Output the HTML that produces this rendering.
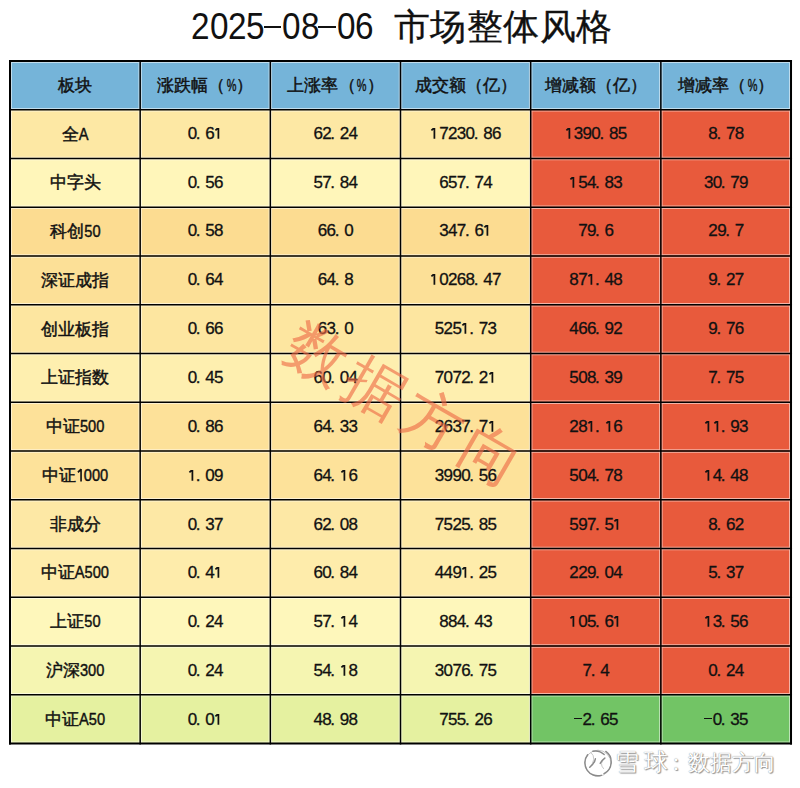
<!DOCTYPE html>
<html><head><meta charset="utf-8">
<style>
html,body{margin:0;padding:0;background:#fff;width:800px;height:788px;overflow:hidden;position:relative;font-family:"Liberation Sans",sans-serif;color:#111;}
.title{position:absolute;left:0;top:0;width:800px;height:56px;}
.t1{position:absolute;left:190.4px;top:7px;font-size:37px;line-height:40px;white-space:nowrap;}
.t1 b{display:inline-block;width:18.2px;text-align:center;font-weight:normal;}
.t1 b span{display:inline-block;transform:scaleX(0.9);}
.t1 b.ds{position:relative;height:40px;vertical-align:top;}
.t1 b.ds:after{content:'';position:absolute;left:0.4px;right:0.4px;top:18.9px;height:2.3px;background:#111;}
.t2{position:absolute;left:394px;top:4.5px;font-size:36.4px;letter-spacing:0.4px;line-height:44px;-webkit-text-stroke:0.3px #111;}
.c{position:absolute;display:flex;align-items:center;justify-content:center;box-sizing:border-box;}
.c span{display:block;white-space:nowrap;}
.h span{font-size:17px;-webkit-text-stroke:0.45px #111;}
.n span{font-size:17px;-webkit-text-stroke:0.45px #111;}
.d span{font-size:17px;line-height:20px;-webkit-text-stroke:0.3px #111;display:flex;align-items:center;position:relative;}
.d b{display:inline-block;width:8.8px;text-align:center;font-weight:normal;height:20px;position:relative;}
.d b.p{text-align:left;text-indent:-0.7px;}
.d b.o svg{position:absolute;left:0;top:4px;}
.d b.m:after{content:'';position:absolute;left:0.3px;right:0.6px;top:7.5px;height:1.7px;background:#111;}
i{font-style:normal;}
.la{display:inline-block;transform:scaleX(0.86);}
.lp{position:relative;left:0.5px;}
.o1{display:inline-block;width:9.45px;height:20px;vertical-align:top;}
.o1 svg{display:block;}
.pc{display:inline-block;width:11.5px;text-align:center;position:relative;left:-1px;}
.pc i{display:inline-block;transform:scaleX(0.64);}
.dt{display:inline-block;width:9px;text-align:left;}
.mi{display:inline-block;}
svg{position:absolute;left:0;top:0;}
.wm{position:absolute;left:269.5px;top:365px;width:268px;height:80px;line-height:80px;font-size:60px;font-weight:300;color:rgba(238,105,70,0.62);transform:rotate(30deg);transform-origin:50% 50%;white-space:nowrap;}
.wm i{display:inline-block;width:67px;text-align:center;}
.xq{position:absolute;left:578px;top:744px;width:40px;height:38px;}
.xqt{position:absolute;top:748px;font-size:22px;line-height:30px;color:#fff;text-shadow:0 0 1px #777,1px 1px 1px #999;white-space:nowrap;}
</style></head><body>
<div class="t1"><b><span>2</span></b><b><span>0</span></b><b><span>2</span></b><b><span>5</span></b><b class="ds"></b><b><span>0</span></b><b><span>8</span></b><b class="ds"></b><b><span>0</span></b><b><span>6</span></b></div>
<div class="t2">市场整体风格</div>
<div class="c h" style="left:10.00px;top:61.00px;width:130.17px;height:48.75px;background:#75B4D9"><span>板块</span></div><div class="c h" style="left:140.17px;top:61.00px;width:130.17px;height:48.75px;background:#75B4D9"><span>涨跌幅<i class="lp">（</i><i class="pc"><i>%</i></i>）</span></div><div class="c h" style="left:270.34px;top:61.00px;width:130.17px;height:48.75px;background:#75B4D9"><span>上涨率<i class="lp">（</i><i class="pc"><i>%</i></i>）</span></div><div class="c h" style="left:400.51px;top:61.00px;width:130.17px;height:48.75px;background:#75B4D9"><span>成交额<i class="lp">（</i>亿）</span></div><div class="c h" style="left:530.68px;top:61.00px;width:130.17px;height:48.75px;background:#75B4D9"><span>增减额<i class="lp">（</i>亿）</span></div><div class="c h" style="left:660.85px;top:61.00px;width:130.17px;height:48.75px;background:#75B4D9"><span>增减率<i class="lp">（</i><i class="pc"><i>%</i></i>）</span></div><div class="c n" style="left:10.00px;top:109.75px;width:130.17px;height:48.75px;background:#FDE8A4"><span>全<i class="la" style="margin:0 -0.79px">A</i></span></div><div class="c d" style="left:140.17px;top:109.75px;width:130.17px;height:48.75px;background:#FDE8A4"><span><i style="display:flex;position:relative;top:-0.50px"><b>0</b><b class="p">.</b><b>6</b><b class="o"><svg width="8.8" height="12" viewBox="0 0 8.8 12"><path d="M4.4 -0.7 V10.8 M4.5 -0.4 L1.4 2.4" stroke="#111" stroke-width="1.75" fill="none"/></svg></b></i></span></div><div class="c d" style="left:270.34px;top:109.75px;width:130.17px;height:48.75px;background:#FDE8A4"><span><i style="display:flex;position:relative;top:-0.50px"><b>6</b><b>2</b><b class="p">.</b><b>2</b><b>4</b></i></span></div><div class="c d" style="left:400.51px;top:109.75px;width:130.17px;height:48.75px;background:#FDE8A4"><span><i style="display:flex;position:relative;top:-0.50px"><b class="o"><svg width="8.8" height="12" viewBox="0 0 8.8 12"><path d="M4.4 -0.7 V10.8 M4.5 -0.4 L1.4 2.4" stroke="#111" stroke-width="1.75" fill="none"/></svg></b><b>7</b><b>2</b><b>3</b><b>0</b><b class="p">.</b><b>8</b><b>6</b></i></span></div><div class="c d" style="left:530.68px;top:109.75px;width:130.17px;height:48.75px;background:#E85A3C"><span><i style="display:flex;position:relative;top:-0.50px"><b class="o"><svg width="8.8" height="12" viewBox="0 0 8.8 12"><path d="M4.4 -0.7 V10.8 M4.5 -0.4 L1.4 2.4" stroke="#111" stroke-width="1.75" fill="none"/></svg></b><b>3</b><b>9</b><b>0</b><b class="p">.</b><b>8</b><b>5</b></i></span></div><div class="c d" style="left:660.85px;top:109.75px;width:130.17px;height:48.75px;background:#E85A3C"><span><i style="display:flex;position:relative;top:-0.50px"><b>8</b><b class="p">.</b><b>7</b><b>8</b></i></span></div><div class="c n" style="left:10.00px;top:158.50px;width:130.17px;height:48.75px;background:#FFF6BA"><span>中字头</span></div><div class="c d" style="left:140.17px;top:158.50px;width:130.17px;height:48.75px;background:#FFF6BA"><span><i style="display:flex;position:relative;top:-0.38px"><b>0</b><b class="p">.</b><b>5</b><b>6</b></i></span></div><div class="c d" style="left:270.34px;top:158.50px;width:130.17px;height:48.75px;background:#FFF6BA"><span><i style="display:flex;position:relative;top:-0.38px"><b>5</b><b>7</b><b class="p">.</b><b>8</b><b>4</b></i></span></div><div class="c d" style="left:400.51px;top:158.50px;width:130.17px;height:48.75px;background:#FFF6BA"><span><i style="display:flex;position:relative;top:-0.38px"><b>6</b><b>5</b><b>7</b><b class="p">.</b><b>7</b><b>4</b></i></span></div><div class="c d" style="left:530.68px;top:158.50px;width:130.17px;height:48.75px;background:#E85A3C"><span><i style="display:flex;position:relative;top:-0.38px"><b class="o"><svg width="8.8" height="12" viewBox="0 0 8.8 12"><path d="M4.4 -0.7 V10.8 M4.5 -0.4 L1.4 2.4" stroke="#111" stroke-width="1.75" fill="none"/></svg></b><b>5</b><b>4</b><b class="p">.</b><b>8</b><b>3</b></i></span></div><div class="c d" style="left:660.85px;top:158.50px;width:130.17px;height:48.75px;background:#E85A3C"><span><i style="display:flex;position:relative;top:-0.38px"><b>3</b><b>0</b><b class="p">.</b><b>7</b><b>9</b></i></span></div><div class="c n" style="left:10.00px;top:207.25px;width:130.17px;height:48.75px;background:#FCDC91"><span>科创<i class="la" style="margin:0 -1.32px">50</i></span></div><div class="c d" style="left:140.17px;top:207.25px;width:130.17px;height:48.75px;background:#FCDC91"><span><i style="display:flex;position:relative;top:-0.27px"><b>0</b><b class="p">.</b><b>5</b><b>8</b></i></span></div><div class="c d" style="left:270.34px;top:207.25px;width:130.17px;height:48.75px;background:#FCDC91"><span><i style="display:flex;position:relative;top:-0.27px"><b>6</b><b>6</b><b class="p">.</b><b>0</b></i></span></div><div class="c d" style="left:400.51px;top:207.25px;width:130.17px;height:48.75px;background:#FCDC91"><span><i style="display:flex;position:relative;top:-0.27px"><b>3</b><b>4</b><b>7</b><b class="p">.</b><b>6</b><b class="o"><svg width="8.8" height="12" viewBox="0 0 8.8 12"><path d="M4.4 -0.7 V10.8 M4.5 -0.4 L1.4 2.4" stroke="#111" stroke-width="1.75" fill="none"/></svg></b></i></span></div><div class="c d" style="left:530.68px;top:207.25px;width:130.17px;height:48.75px;background:#E85A3C"><span><i style="display:flex;position:relative;top:-0.27px"><b>7</b><b>9</b><b class="p">.</b><b>6</b></i></span></div><div class="c d" style="left:660.85px;top:207.25px;width:130.17px;height:48.75px;background:#E85A3C"><span><i style="display:flex;position:relative;top:-0.27px"><b>2</b><b>9</b><b class="p">.</b><b>7</b></i></span></div><div class="c n" style="left:10.00px;top:256.00px;width:130.17px;height:48.75px;background:#FCE097"><span>深证成指</span></div><div class="c d" style="left:140.17px;top:256.00px;width:130.17px;height:48.75px;background:#FCE097"><span><i style="display:flex;position:relative;top:-0.15px"><b>0</b><b class="p">.</b><b>6</b><b>4</b></i></span></div><div class="c d" style="left:270.34px;top:256.00px;width:130.17px;height:48.75px;background:#FCE097"><span><i style="display:flex;position:relative;top:-0.15px"><b>6</b><b>4</b><b class="p">.</b><b>8</b></i></span></div><div class="c d" style="left:400.51px;top:256.00px;width:130.17px;height:48.75px;background:#FCE097"><span><i style="display:flex;position:relative;top:-0.15px"><b class="o"><svg width="8.8" height="12" viewBox="0 0 8.8 12"><path d="M4.4 -0.7 V10.8 M4.5 -0.4 L1.4 2.4" stroke="#111" stroke-width="1.75" fill="none"/></svg></b><b>0</b><b>2</b><b>6</b><b>8</b><b class="p">.</b><b>4</b><b>7</b></i></span></div><div class="c d" style="left:530.68px;top:256.00px;width:130.17px;height:48.75px;background:#E85A3C"><span><i style="display:flex;position:relative;top:-0.15px"><b>8</b><b>7</b><b class="o"><svg width="8.8" height="12" viewBox="0 0 8.8 12"><path d="M4.4 -0.7 V10.8 M4.5 -0.4 L1.4 2.4" stroke="#111" stroke-width="1.75" fill="none"/></svg></b><b class="p">.</b><b>4</b><b>8</b></i></span></div><div class="c d" style="left:660.85px;top:256.00px;width:130.17px;height:48.75px;background:#E85A3C"><span><i style="display:flex;position:relative;top:-0.15px"><b>9</b><b class="p">.</b><b>2</b><b>7</b></i></span></div><div class="c n" style="left:10.00px;top:304.75px;width:130.17px;height:48.75px;background:#FDE6A0"><span>创业板指</span></div><div class="c d" style="left:140.17px;top:304.75px;width:130.17px;height:48.75px;background:#FDE6A0"><span><i style="display:flex;position:relative;top:-0.03px"><b>0</b><b class="p">.</b><b>6</b><b>6</b></i></span></div><div class="c d" style="left:270.34px;top:304.75px;width:130.17px;height:48.75px;background:#FDE6A0"><span><i style="display:flex;position:relative;top:-0.03px"><b>6</b><b>3</b><b class="p">.</b><b>0</b></i></span></div><div class="c d" style="left:400.51px;top:304.75px;width:130.17px;height:48.75px;background:#FDE6A0"><span><i style="display:flex;position:relative;top:-0.03px"><b>5</b><b>2</b><b>5</b><b class="o"><svg width="8.8" height="12" viewBox="0 0 8.8 12"><path d="M4.4 -0.7 V10.8 M4.5 -0.4 L1.4 2.4" stroke="#111" stroke-width="1.75" fill="none"/></svg></b><b class="p">.</b><b>7</b><b>3</b></i></span></div><div class="c d" style="left:530.68px;top:304.75px;width:130.17px;height:48.75px;background:#E85A3C"><span><i style="display:flex;position:relative;top:-0.03px"><b>4</b><b>6</b><b>6</b><b class="p">.</b><b>9</b><b>2</b></i></span></div><div class="c d" style="left:660.85px;top:304.75px;width:130.17px;height:48.75px;background:#E85A3C"><span><i style="display:flex;position:relative;top:-0.03px"><b>9</b><b class="p">.</b><b>7</b><b>6</b></i></span></div><div class="c n" style="left:10.00px;top:353.50px;width:130.17px;height:48.75px;background:#FEEFAF"><span>上证指数</span></div><div class="c d" style="left:140.17px;top:353.50px;width:130.17px;height:48.75px;background:#FEEFAF"><span><i style="display:flex;position:relative;top:0.08px"><b>0</b><b class="p">.</b><b>4</b><b>5</b></i></span></div><div class="c d" style="left:270.34px;top:353.50px;width:130.17px;height:48.75px;background:#FEEFAF"><span><i style="display:flex;position:relative;top:0.08px"><b>6</b><b>0</b><b class="p">.</b><b>0</b><b>4</b></i></span></div><div class="c d" style="left:400.51px;top:353.50px;width:130.17px;height:48.75px;background:#FEEFAF"><span><i style="display:flex;position:relative;top:0.08px"><b>7</b><b>0</b><b>7</b><b>2</b><b class="p">.</b><b>2</b><b class="o"><svg width="8.8" height="12" viewBox="0 0 8.8 12"><path d="M4.4 -0.7 V10.8 M4.5 -0.4 L1.4 2.4" stroke="#111" stroke-width="1.75" fill="none"/></svg></b></i></span></div><div class="c d" style="left:530.68px;top:353.50px;width:130.17px;height:48.75px;background:#E85A3C"><span><i style="display:flex;position:relative;top:0.08px"><b>5</b><b>0</b><b>8</b><b class="p">.</b><b>3</b><b>9</b></i></span></div><div class="c d" style="left:660.85px;top:353.50px;width:130.17px;height:48.75px;background:#E85A3C"><span><i style="display:flex;position:relative;top:0.08px"><b>7</b><b class="p">.</b><b>7</b><b>5</b></i></span></div><div class="c n" style="left:10.00px;top:402.25px;width:130.17px;height:48.75px;background:#FDE199"><span>中证<i class="la" style="margin:0 -1.98px">500</i></span></div><div class="c d" style="left:140.17px;top:402.25px;width:130.17px;height:48.75px;background:#FDE199"><span><i style="display:flex;position:relative;top:0.20px"><b>0</b><b class="p">.</b><b>8</b><b>6</b></i></span></div><div class="c d" style="left:270.34px;top:402.25px;width:130.17px;height:48.75px;background:#FDE199"><span><i style="display:flex;position:relative;top:0.20px"><b>6</b><b>4</b><b class="p">.</b><b>3</b><b>3</b></i></span></div><div class="c d" style="left:400.51px;top:402.25px;width:130.17px;height:48.75px;background:#FDE199"><span><i style="display:flex;position:relative;top:0.20px"><b>2</b><b>6</b><b>3</b><b>7</b><b class="p">.</b><b>7</b><b class="o"><svg width="8.8" height="12" viewBox="0 0 8.8 12"><path d="M4.4 -0.7 V10.8 M4.5 -0.4 L1.4 2.4" stroke="#111" stroke-width="1.75" fill="none"/></svg></b></i></span></div><div class="c d" style="left:530.68px;top:402.25px;width:130.17px;height:48.75px;background:#E85A3C"><span><i style="display:flex;position:relative;top:0.20px"><b>2</b><b>8</b><b class="o"><svg width="8.8" height="12" viewBox="0 0 8.8 12"><path d="M4.4 -0.7 V10.8 M4.5 -0.4 L1.4 2.4" stroke="#111" stroke-width="1.75" fill="none"/></svg></b><b class="p">.</b><b class="o"><svg width="8.8" height="12" viewBox="0 0 8.8 12"><path d="M4.4 -0.7 V10.8 M4.5 -0.4 L1.4 2.4" stroke="#111" stroke-width="1.75" fill="none"/></svg></b><b>6</b></i></span></div><div class="c d" style="left:660.85px;top:402.25px;width:130.17px;height:48.75px;background:#E85A3C"><span><i style="display:flex;position:relative;top:0.20px"><b class="o"><svg width="8.8" height="12" viewBox="0 0 8.8 12"><path d="M4.4 -0.7 V10.8 M4.5 -0.4 L1.4 2.4" stroke="#111" stroke-width="1.75" fill="none"/></svg></b><b class="o"><svg width="8.8" height="12" viewBox="0 0 8.8 12"><path d="M4.4 -0.7 V10.8 M4.5 -0.4 L1.4 2.4" stroke="#111" stroke-width="1.75" fill="none"/></svg></b><b class="p">.</b><b>9</b><b>3</b></i></span></div><div class="c n" style="left:10.00px;top:451.00px;width:130.17px;height:48.75px;background:#FDE29A"><span>中证<i class="la" style="margin:0 -2.65px"><b class="o1"><svg width="9.45" height="20" viewBox="0 0 9.45 20"><path d="M6.3 3.0 V15.6 M6.4 3.3 L2.6 6.3" stroke="#111" stroke-width="1.9" fill="none"/></svg></b>000</i></span></div><div class="c d" style="left:140.17px;top:451.00px;width:130.17px;height:48.75px;background:#FDE29A"><span><i style="display:flex;position:relative;top:0.32px"><b class="o"><svg width="8.8" height="12" viewBox="0 0 8.8 12"><path d="M4.4 -0.7 V10.8 M4.5 -0.4 L1.4 2.4" stroke="#111" stroke-width="1.75" fill="none"/></svg></b><b class="p">.</b><b>0</b><b>9</b></i></span></div><div class="c d" style="left:270.34px;top:451.00px;width:130.17px;height:48.75px;background:#FDE29A"><span><i style="display:flex;position:relative;top:0.32px"><b>6</b><b>4</b><b class="p">.</b><b class="o"><svg width="8.8" height="12" viewBox="0 0 8.8 12"><path d="M4.4 -0.7 V10.8 M4.5 -0.4 L1.4 2.4" stroke="#111" stroke-width="1.75" fill="none"/></svg></b><b>6</b></i></span></div><div class="c d" style="left:400.51px;top:451.00px;width:130.17px;height:48.75px;background:#FDE29A"><span><i style="display:flex;position:relative;top:0.32px"><b>3</b><b>9</b><b>9</b><b>0</b><b class="p">.</b><b>5</b><b>6</b></i></span></div><div class="c d" style="left:530.68px;top:451.00px;width:130.17px;height:48.75px;background:#E85A3C"><span><i style="display:flex;position:relative;top:0.32px"><b>5</b><b>0</b><b>4</b><b class="p">.</b><b>7</b><b>8</b></i></span></div><div class="c d" style="left:660.85px;top:451.00px;width:130.17px;height:48.75px;background:#E85A3C"><span><i style="display:flex;position:relative;top:0.32px"><b class="o"><svg width="8.8" height="12" viewBox="0 0 8.8 12"><path d="M4.4 -0.7 V10.8 M4.5 -0.4 L1.4 2.4" stroke="#111" stroke-width="1.75" fill="none"/></svg></b><b>4</b><b class="p">.</b><b>4</b><b>8</b></i></span></div><div class="c n" style="left:10.00px;top:499.75px;width:130.17px;height:48.75px;background:#FDE8A5"><span>非成分</span></div><div class="c d" style="left:140.17px;top:499.75px;width:130.17px;height:48.75px;background:#FDE8A5"><span><i style="display:flex;position:relative;top:0.43px"><b>0</b><b class="p">.</b><b>3</b><b>7</b></i></span></div><div class="c d" style="left:270.34px;top:499.75px;width:130.17px;height:48.75px;background:#FDE8A5"><span><i style="display:flex;position:relative;top:0.43px"><b>6</b><b>2</b><b class="p">.</b><b>0</b><b>8</b></i></span></div><div class="c d" style="left:400.51px;top:499.75px;width:130.17px;height:48.75px;background:#FDE8A5"><span><i style="display:flex;position:relative;top:0.43px"><b>7</b><b>5</b><b>2</b><b>5</b><b class="p">.</b><b>8</b><b>5</b></i></span></div><div class="c d" style="left:530.68px;top:499.75px;width:130.17px;height:48.75px;background:#E85A3C"><span><i style="display:flex;position:relative;top:0.43px"><b>5</b><b>9</b><b>7</b><b class="p">.</b><b>5</b><b class="o"><svg width="8.8" height="12" viewBox="0 0 8.8 12"><path d="M4.4 -0.7 V10.8 M4.5 -0.4 L1.4 2.4" stroke="#111" stroke-width="1.75" fill="none"/></svg></b></i></span></div><div class="c d" style="left:660.85px;top:499.75px;width:130.17px;height:48.75px;background:#E85A3C"><span><i style="display:flex;position:relative;top:0.43px"><b>8</b><b class="p">.</b><b>6</b><b>2</b></i></span></div><div class="c n" style="left:10.00px;top:548.50px;width:130.17px;height:48.75px;background:#FEECAB"><span>中证<i class="la" style="margin:0 -2.78px">A500</i></span></div><div class="c d" style="left:140.17px;top:548.50px;width:130.17px;height:48.75px;background:#FEECAB"><span><i style="display:flex;position:relative;top:0.55px"><b>0</b><b class="p">.</b><b>4</b><b class="o"><svg width="8.8" height="12" viewBox="0 0 8.8 12"><path d="M4.4 -0.7 V10.8 M4.5 -0.4 L1.4 2.4" stroke="#111" stroke-width="1.75" fill="none"/></svg></b></i></span></div><div class="c d" style="left:270.34px;top:548.50px;width:130.17px;height:48.75px;background:#FEECAB"><span><i style="display:flex;position:relative;top:0.55px"><b>6</b><b>0</b><b class="p">.</b><b>8</b><b>4</b></i></span></div><div class="c d" style="left:400.51px;top:548.50px;width:130.17px;height:48.75px;background:#FEECAB"><span><i style="display:flex;position:relative;top:0.55px"><b>4</b><b>4</b><b>9</b><b class="o"><svg width="8.8" height="12" viewBox="0 0 8.8 12"><path d="M4.4 -0.7 V10.8 M4.5 -0.4 L1.4 2.4" stroke="#111" stroke-width="1.75" fill="none"/></svg></b><b class="p">.</b><b>2</b><b>5</b></i></span></div><div class="c d" style="left:530.68px;top:548.50px;width:130.17px;height:48.75px;background:#E85A3C"><span><i style="display:flex;position:relative;top:0.55px"><b>2</b><b>2</b><b>9</b><b class="p">.</b><b>0</b><b>4</b></i></span></div><div class="c d" style="left:660.85px;top:548.50px;width:130.17px;height:48.75px;background:#E85A3C"><span><i style="display:flex;position:relative;top:0.55px"><b>5</b><b class="p">.</b><b>3</b><b>7</b></i></span></div><div class="c n" style="left:10.00px;top:597.25px;width:130.17px;height:48.75px;background:#FEF7BB"><span>上证<i class="la" style="margin:0 -1.32px">50</i></span></div><div class="c d" style="left:140.17px;top:597.25px;width:130.17px;height:48.75px;background:#FEF7BB"><span><i style="display:flex;position:relative;top:0.67px"><b>0</b><b class="p">.</b><b>2</b><b>4</b></i></span></div><div class="c d" style="left:270.34px;top:597.25px;width:130.17px;height:48.75px;background:#FEF7BB"><span><i style="display:flex;position:relative;top:0.67px"><b>5</b><b>7</b><b class="p">.</b><b class="o"><svg width="8.8" height="12" viewBox="0 0 8.8 12"><path d="M4.4 -0.7 V10.8 M4.5 -0.4 L1.4 2.4" stroke="#111" stroke-width="1.75" fill="none"/></svg></b><b>4</b></i></span></div><div class="c d" style="left:400.51px;top:597.25px;width:130.17px;height:48.75px;background:#FEF7BB"><span><i style="display:flex;position:relative;top:0.67px"><b>8</b><b>8</b><b>4</b><b class="p">.</b><b>4</b><b>3</b></i></span></div><div class="c d" style="left:530.68px;top:597.25px;width:130.17px;height:48.75px;background:#E85A3C"><span><i style="display:flex;position:relative;top:0.67px"><b class="o"><svg width="8.8" height="12" viewBox="0 0 8.8 12"><path d="M4.4 -0.7 V10.8 M4.5 -0.4 L1.4 2.4" stroke="#111" stroke-width="1.75" fill="none"/></svg></b><b>0</b><b>5</b><b class="p">.</b><b>6</b><b class="o"><svg width="8.8" height="12" viewBox="0 0 8.8 12"><path d="M4.4 -0.7 V10.8 M4.5 -0.4 L1.4 2.4" stroke="#111" stroke-width="1.75" fill="none"/></svg></b></i></span></div><div class="c d" style="left:660.85px;top:597.25px;width:130.17px;height:48.75px;background:#E85A3C"><span><i style="display:flex;position:relative;top:0.67px"><b class="o"><svg width="8.8" height="12" viewBox="0 0 8.8 12"><path d="M4.4 -0.7 V10.8 M4.5 -0.4 L1.4 2.4" stroke="#111" stroke-width="1.75" fill="none"/></svg></b><b>3</b><b class="p">.</b><b>5</b><b>6</b></i></span></div><div class="c n" style="left:10.00px;top:646.00px;width:130.17px;height:48.75px;background:#F5F5B1"><span>沪深<i class="la" style="margin:0 -1.98px">300</i></span></div><div class="c d" style="left:140.17px;top:646.00px;width:130.17px;height:48.75px;background:#F5F5B1"><span><i style="display:flex;position:relative;top:0.78px"><b>0</b><b class="p">.</b><b>2</b><b>4</b></i></span></div><div class="c d" style="left:270.34px;top:646.00px;width:130.17px;height:48.75px;background:#F5F5B1"><span><i style="display:flex;position:relative;top:0.78px"><b>5</b><b>4</b><b class="p">.</b><b class="o"><svg width="8.8" height="12" viewBox="0 0 8.8 12"><path d="M4.4 -0.7 V10.8 M4.5 -0.4 L1.4 2.4" stroke="#111" stroke-width="1.75" fill="none"/></svg></b><b>8</b></i></span></div><div class="c d" style="left:400.51px;top:646.00px;width:130.17px;height:48.75px;background:#F5F5B1"><span><i style="display:flex;position:relative;top:0.78px"><b>3</b><b>0</b><b>7</b><b>6</b><b class="p">.</b><b>7</b><b>5</b></i></span></div><div class="c d" style="left:530.68px;top:646.00px;width:130.17px;height:48.75px;background:#E85A3C"><span><i style="display:flex;position:relative;top:0.78px"><b>7</b><b class="p">.</b><b>4</b></i></span></div><div class="c d" style="left:660.85px;top:646.00px;width:130.17px;height:48.75px;background:#E85A3C"><span><i style="display:flex;position:relative;top:0.78px"><b>0</b><b class="p">.</b><b>2</b><b>4</b></i></span></div><div class="c n" style="left:10.00px;top:694.75px;width:130.17px;height:48.75px;background:#E5F1A0"><span>中证<i class="la" style="margin:0 -2.12px">A50</i></span></div><div class="c d" style="left:140.17px;top:694.75px;width:130.17px;height:48.75px;background:#E5F1A0"><span><i style="display:flex;position:relative;top:0.90px"><b>0</b><b class="p">.</b><b>0</b><b class="o"><svg width="8.8" height="12" viewBox="0 0 8.8 12"><path d="M4.4 -0.7 V10.8 M4.5 -0.4 L1.4 2.4" stroke="#111" stroke-width="1.75" fill="none"/></svg></b></i></span></div><div class="c d" style="left:270.34px;top:694.75px;width:130.17px;height:48.75px;background:#E5F1A0"><span><i style="display:flex;position:relative;top:0.90px"><b>4</b><b>8</b><b class="p">.</b><b>9</b><b>8</b></i></span></div><div class="c d" style="left:400.51px;top:694.75px;width:130.17px;height:48.75px;background:#E5F1A0"><span><i style="display:flex;position:relative;top:0.90px"><b>7</b><b>5</b><b>5</b><b class="p">.</b><b>2</b><b>6</b></i></span></div><div class="c d" style="left:530.68px;top:694.75px;width:130.17px;height:48.75px;background:#72C465"><span><i style="display:flex;position:relative;top:0.90px"><b class="m"></b><b>2</b><b class="p">.</b><b>6</b><b>5</b></i></span></div><div class="c d" style="left:660.85px;top:694.75px;width:130.17px;height:48.75px;background:#72C465"><span><i style="display:flex;position:relative;top:0.90px"><b class="m"></b><b>0</b><b class="p">.</b><b>3</b><b>5</b></i></span></div>
<svg width="800" height="788" viewBox="0 0 800 788"><g stroke="#fff" stroke-width="1.0" opacity="0.55"><line x1="11.50" y1="60.00" x2="11.50" y2="744.50"/><line x1="138.92" y1="60.00" x2="138.92" y2="744.50"/><line x1="141.42" y1="60.00" x2="141.42" y2="744.50"/><line x1="269.09" y1="60.00" x2="269.09" y2="744.50"/><line x1="271.59" y1="60.00" x2="271.59" y2="744.50"/><line x1="399.26" y1="60.00" x2="399.26" y2="744.50"/><line x1="401.76" y1="60.00" x2="401.76" y2="744.50"/><line x1="529.43" y1="60.00" x2="529.43" y2="744.50"/><line x1="531.93" y1="60.00" x2="531.93" y2="744.50"/><line x1="659.60" y1="60.00" x2="659.60" y2="744.50"/><line x1="662.10" y1="60.00" x2="662.10" y2="744.50"/><line x1="789.52" y1="60.00" x2="789.52" y2="744.50"/><line x1="9.00" y1="62.50" x2="792.02" y2="62.50"/><line x1="9.00" y1="108.50" x2="792.02" y2="108.50"/><line x1="9.00" y1="111.00" x2="792.02" y2="111.00"/><line x1="9.00" y1="157.25" x2="792.02" y2="157.25"/><line x1="9.00" y1="159.75" x2="792.02" y2="159.75"/><line x1="9.00" y1="206.00" x2="792.02" y2="206.00"/><line x1="9.00" y1="208.50" x2="792.02" y2="208.50"/><line x1="9.00" y1="254.75" x2="792.02" y2="254.75"/><line x1="9.00" y1="257.25" x2="792.02" y2="257.25"/><line x1="9.00" y1="303.50" x2="792.02" y2="303.50"/><line x1="9.00" y1="306.00" x2="792.02" y2="306.00"/><line x1="9.00" y1="352.25" x2="792.02" y2="352.25"/><line x1="9.00" y1="354.75" x2="792.02" y2="354.75"/><line x1="9.00" y1="401.00" x2="792.02" y2="401.00"/><line x1="9.00" y1="403.50" x2="792.02" y2="403.50"/><line x1="9.00" y1="449.75" x2="792.02" y2="449.75"/><line x1="9.00" y1="452.25" x2="792.02" y2="452.25"/><line x1="9.00" y1="498.50" x2="792.02" y2="498.50"/><line x1="9.00" y1="501.00" x2="792.02" y2="501.00"/><line x1="9.00" y1="547.25" x2="792.02" y2="547.25"/><line x1="9.00" y1="549.75" x2="792.02" y2="549.75"/><line x1="9.00" y1="596.00" x2="792.02" y2="596.00"/><line x1="9.00" y1="598.50" x2="792.02" y2="598.50"/><line x1="9.00" y1="644.75" x2="792.02" y2="644.75"/><line x1="9.00" y1="647.25" x2="792.02" y2="647.25"/><line x1="9.00" y1="693.50" x2="792.02" y2="693.50"/><line x1="9.00" y1="696.00" x2="792.02" y2="696.00"/><line x1="9.00" y1="742.00" x2="792.02" y2="742.00"/></g><line x1="10.00" y1="60.00" x2="10.00" y2="744.50" stroke="#000" stroke-width="2.0"/><line x1="140.17" y1="60.00" x2="140.17" y2="744.50" stroke="#000" stroke-width="1.5"/><line x1="270.34" y1="60.00" x2="270.34" y2="744.50" stroke="#000" stroke-width="1.5"/><line x1="400.51" y1="60.00" x2="400.51" y2="744.50" stroke="#000" stroke-width="1.5"/><line x1="530.68" y1="60.00" x2="530.68" y2="744.50" stroke="#000" stroke-width="1.5"/><line x1="660.85" y1="60.00" x2="660.85" y2="744.50" stroke="#000" stroke-width="1.5"/><line x1="791.02" y1="60.00" x2="791.02" y2="744.50" stroke="#000" stroke-width="2.0"/><line x1="9.00" y1="61.00" x2="792.02" y2="61.00" stroke="#000" stroke-width="2.0"/><line x1="9.00" y1="109.75" x2="792.02" y2="109.75" stroke="#000" stroke-width="1.5"/><line x1="9.00" y1="158.50" x2="792.02" y2="158.50" stroke="#000" stroke-width="1.5"/><line x1="9.00" y1="207.25" x2="792.02" y2="207.25" stroke="#000" stroke-width="1.5"/><line x1="9.00" y1="256.00" x2="792.02" y2="256.00" stroke="#000" stroke-width="1.5"/><line x1="9.00" y1="304.75" x2="792.02" y2="304.75" stroke="#000" stroke-width="1.5"/><line x1="9.00" y1="353.50" x2="792.02" y2="353.50" stroke="#000" stroke-width="1.5"/><line x1="9.00" y1="402.25" x2="792.02" y2="402.25" stroke="#000" stroke-width="1.5"/><line x1="9.00" y1="451.00" x2="792.02" y2="451.00" stroke="#000" stroke-width="1.5"/><line x1="9.00" y1="499.75" x2="792.02" y2="499.75" stroke="#000" stroke-width="1.5"/><line x1="9.00" y1="548.50" x2="792.02" y2="548.50" stroke="#000" stroke-width="1.5"/><line x1="9.00" y1="597.25" x2="792.02" y2="597.25" stroke="#000" stroke-width="1.5"/><line x1="9.00" y1="646.00" x2="792.02" y2="646.00" stroke="#000" stroke-width="1.5"/><line x1="9.00" y1="694.75" x2="792.02" y2="694.75" stroke="#000" stroke-width="1.5"/><line x1="9.00" y1="743.50" x2="792.02" y2="743.50" stroke="#000" stroke-width="2.0"/></svg>
<div class="wm"><i>数</i><i>据</i><i>方</i><i>向</i></div>
<div class="xq"><svg width="40" height="38" viewBox="0 0 40 38" fill="none" stroke-linecap="round">
<g stroke="#c8c8c8" stroke-width="1"><circle cx="20" cy="19.2" r="13"/><path d="M13 8.5 Q19.5 14.5 11.6 23.4 M27 14 Q20.5 19.5 25.5 24.6"/></g>
<g stroke="#8a8a8a" stroke-width="1.4"><path d="M9.6 10.8 A13 13 0 0 0 23.4 31.3"/><path d="M14.8 7.2 A13 13 0 0 1 26.2 10.6"/><path d="M27.8 7.4 A13 13 0 0 1 26 29.6"/><path d="M17.4 14.8 Q16.8 19 11.8 23.2"/><path d="M26.8 14.1 Q23.5 16.5 22.2 19.4"/></g>
</svg></div>
<div class="xqt" style="left:615px;font-size:24px;top:747px">雪</div><div class="xqt" style="left:643.5px;font-size:24px;top:747px">球</div><div class="xqt" style="left:665px">：</div><div class="xqt" style="left:687.5px">数</div><div class="xqt" style="left:709.5px">据</div><div class="xqt" style="left:731.5px">方</div><div class="xqt" style="left:753.5px">向</div>
</body></html>
